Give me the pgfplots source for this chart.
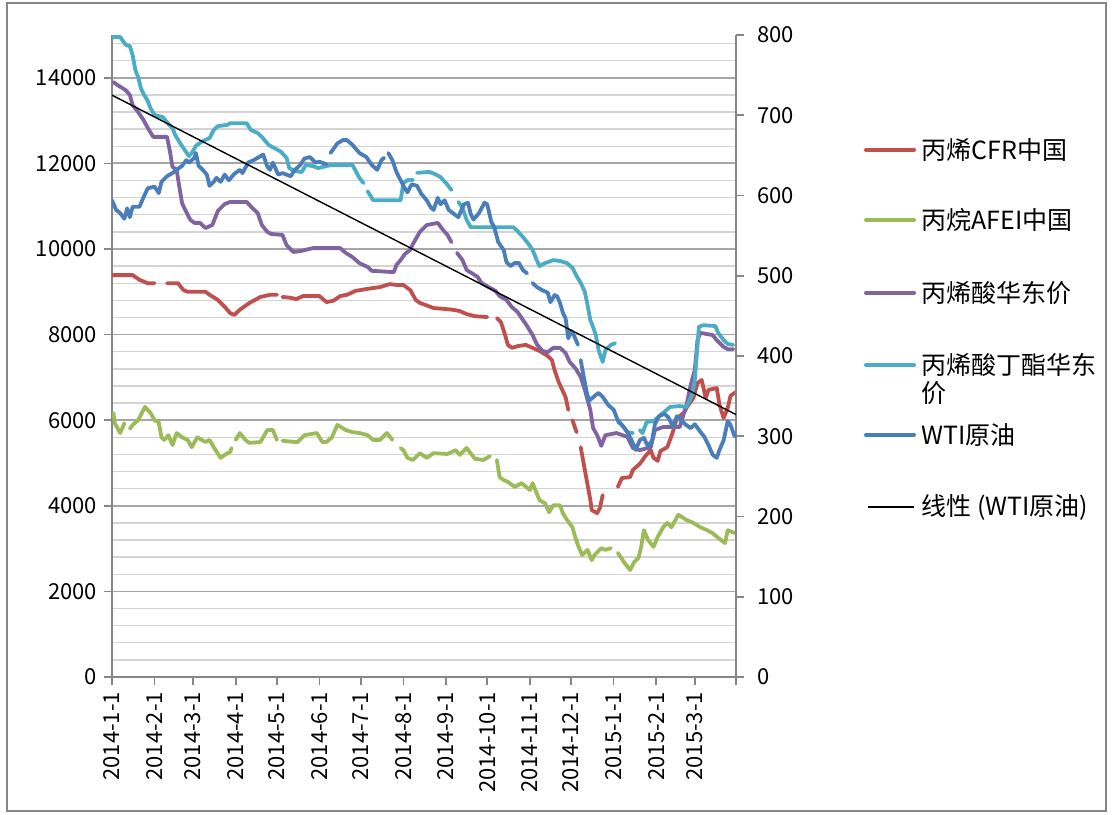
\documentclass[border=0pt]{standalone}
\usepackage{fontspec}
\setmainfont{Noto Sans CJK SC}
\usepackage{pgfplots}
\pgfplotsset{compat=1.18}
\definecolor{cred}{HTML}{C0504D}
\definecolor{cgreen}{HTML}{9BBB59}
\definecolor{cpurple}{HTML}{8064A2}
\definecolor{ccyan}{HTML}{4BACC6}
\definecolor{cblue}{HTML}{4A7EBB}
\definecolor{axgray}{HTML}{868686}
\definecolor{gmaj}{HTML}{A6A6A6}
\definecolor{gmin}{HTML}{D4D4D4}
\pgfplotsset{
  common/.style={
    scale only axis, width=312pt, height=321pt,
    at={(56pt,68.5pt)}, anchor=south west,
    xmin=0, xmax=454,
    unbounded coords=jump,
    tick align=outside,
    major tick length=4pt, minor tick length=0pt,
    axis line style={color=axgray, line width=0.8pt},
    tick style={color=axgray, line width=0.8pt},
    tick label style={font=\fontsize{11}{13}\selectfont, text=black},
    /pgf/number format/assume math mode=true,
    /pgf/number format/1000 sep={},
    scaled y ticks=false,
  },
  ser/.style={line width=1.9pt, line cap=round, line join=round},
}
\begin{document}
\begin{tikzpicture}[x=1pt,y=1pt]
\useasboundingbox (0,0) rectangle (556,407);
\draw[axgray, line width=1pt] (3.5,1.5) rectangle (553,405.5);
\begin{axis}[common,
  axis y line*=left, axis x line*=bottom,
  ymin=0, ymax=15000,
  ytick={0,2000,...,14000},
  minor ytick={400,800,...,14800},
  ymajorgrids, yminorgrids,
  major grid style={color=gmaj, line width=0.9pt},
  minor grid style={color=gmin, line width=0.7pt},
  xtick={0,31,59,90,120,151,181,212,243,273,304,334,365,396,424,454},
  xticklabels={2014-1-1,2014-2-1,2014-3-1,2014-4-1,2014-5-1,2014-6-1,2014-7-1,2014-8-1,2014-9-1,2014-10-1,2014-11-1,2014-12-1,2015-1-1,2015-2-1,2015-3-1,{}},
  x tick label style={rotate=90, anchor=east},
]
% 丙烯CFR中国
\addplot[ser, cred] coordinates {
(0,9390) (15,9390) (20,9280) (26,9200) (31,9200) (33,nan) (40,9200) (48,9200) (52,9040) (55,9000) (68,9000) (71,8930) (77,8810) (82,8650) (86,8500) (89,8460) (93,8580) (100,8740) (108,8880) (115,8930) (120,8930) (122,nan) (124,8880) (130,8860) (134,8830) (139,8900) (151,8900) (156,8760) (161,8790) (166,8900) (171,8930) (177,9020) (186,9070) (195,9110) (202,9180) (207,9160) (212,9160) (217,9040) (221,8810) (224,8740) (234,8620) (242,8600) (248,8580) (253,8550) (258,8480) (264,8430) (273,8410) (276,nan) (280,8390) (283,8290) (286,7990) (288,7760) (291,7690) (295,7730) (301,7760) (306,7690) (311,7620) (317,7500) (320,7410) (322,7170) (325,6890) (327,6750) (330,6540) (332,6240) (333,nan) (335,6000) (338,5720) (339,nan) (341,5370) (344,4840) (346,4490) (348,4140) (349,3900) (353,3830) (355,3950) (357,4250) (360,nan) (368,4440) (371,4650) (377,4670) (379,4840) (384,4980) (388,5160) (392,5300) (394,5120) (397,5050) (399,5280) (404,5370) (406,5540) (408,5720) (411,6050) (416,6170) (418,6290) (423,6520) (426,6870) (429,6940) (432,6520) (434,6710) (440,6750) (442,6360) (445,6050) (448,6290) (450,6570) (454,6660)
};
% 丙烷AFEI中国
\addplot[ser, cgreen] coordinates {
(1,6170) (2,5930) (6,5700) (9,5930) (11,nan) (13,5800) (15,5890) (19,6000) (24,6310) (28,6170) (31,6000) (34,5950) (36,5600) (38,5540) (41,5650) (44,5420) (47,5700) (51,5600) (55,5540) (58,5370) (62,5600) (68,5490) (71,5540) (74,5370) (79,5120) (82,5190) (86,5260) (87,5350) (88,nan) (90,5540) (93,5700) (97,5540) (100,5470) (108,5490) (113,5770) (117,5770) (120,5540) (122,nan) (124,5520) (130,5500) (135,5490) (140,5650) (149,5700) (153,5490) (156,5490) (160,5600) (164,5890) (170,5770) (175,5720) (180,5700) (186,5650) (190,5540) (195,5540) (200,5700) (204,5540) (207,nan) (210,5350) (212,5300) (215,5120) (219,5070) (224,5230) (229,5120) (234,5230) (244,5210) (250,5300) (253,5190) (258,5350) (264,5100) (270,5070) (275,5160) (277,nan) (280,5070) (282,4670) (285,4600) (288,4560) (293,4440) (298,4530) (304,4370) (306,4530) (311,4130) (315,4060) (318,3850) (321,4010) (326,4010) (328,3830) (331,3670) (335,3500) (337,3270) (339,3080) (342,2850) (346,2970) (349,2730) (351,2850) (356,3010) (359,2970) (363,3010) (365,nan) (368,2900) (373,2660) (377,2500) (380,2690) (383,2780) (385,3040) (387,3430) (390,3200) (394,3040) (397,3270) (401,3500) (404,3600) (407,3500) (410,3670) (412,3790) (418,3670) (423,3600) (428,3500) (433,3430) (437,3360) (441,3250) (446,3130) (448,3430) (451,3390) (454,3360)
};
% 丙烯酸华东价
\addplot[ser, cpurple] coordinates {
(1,13900) (4,13830) (10,13710) (13,13600) (15,13360) (19,13200) (23,13010) (26,12830) (30,12620) (40,12620) (42,12310) (44,11920) (47,11850) (49,11450) (51,11070) (53,10930) (57,10680) (60,10610) (64,10610) (68,10490) (73,10560) (77,10890) (82,11050) (86,11100) (98,11100) (102,10960) (106,10840) (109,10560) (113,10400) (116,10350) (124,10330) (127,10090) (132,9930) (137,9950) (146,10020) (166,10020) (170,9910) (175,9810) (180,9670) (186,9580) (189,9490) (205,9460) (207,9630) (210,9740) (213,9880) (217,9980) (219,10120) (224,10400) (229,10560) (237,10610) (241,10440) (244,10330) (247,10160) (249,nan) (251,9910) (255,9740) (258,9510) (266,9350) (269,9200) (274,9110) (279,9020) (282,8900) (287,8810) (291,8640) (295,8530) (298,8390) (302,8200) (306,7990) (309,7780) (313,7620) (317,7590) (321,7690) (326,7690) (330,7570) (333,7360) (337,7220) (341,7010) (344,6710) (348,6240) (350,5820) (353,5650) (356,5400) (359,5650) (367,5700) (375,5610) (379,5350) (384,5300) (392,5370) (395,5770) (401,5840) (413,5840) (418,6360) (421,6820) (424,7170) (426,7870) (428,8040) (437,7990) (440,7870) (445,7710) (448,7660) (452,7660)
};
% 丙烯酸丁酯华东价
\addplot[ser, ccyan] coordinates {
(0,14950) (6,14950) (10,14770) (13,14740) (15,14530) (17,14180) (19,14020) (21,13760) (23,13620) (26,13460) (28,13290) (31,13130) (37,13080) (41,12920) (44,12830) (46,12660) (50,12450) (53,12310) (56,12170) (58,12240) (61,12410) (65,12500) (68,12550) (71,12590) (74,12780) (77,12870) (84,12900) (86,12940) (98,12940) (101,12780) (106,12710) (109,12620) (114,12430) (118,12360) (123,12270) (127,12130) (129,11890) (133,11820) (138,11800) (141,11960) (146,11940) (150,11890) (159,11960) (175,11960) (180,11660) (183,11540) (185,nan) (186,11350) (190,11140) (210,11140) (212,11540) (215,11610) (219,11610) (220,nan) (222,11780) (231,11800) (235,11750) (239,11680) (243,11540) (247,11380) (249,nan) (252,11100) (255,10960) (258,10680) (261,10510) (292,10510) (295,10420) (299,10280) (303,10120) (306,9980) (309,9740) (311,9600) (315,9670) (321,9740) (326,9720) (331,9670) (335,9560) (338,9370) (341,9210) (344,9000) (346,8690) (348,8340) (350,8180) (352,7990) (354,7640) (357,7360) (359,7640) (363,7760) (366,7800) (366.5,nan) (368,5960) (371,5890) (375,5720) (379,5700) (381,nan) (384,5770) (386,5700) (389,5960) (394,5980) (406,6310) (413,6330) (418,6310) (422,6590) (424,6940) (426,7760) (427,8180) (430,8220) (439,8200) (441,8040) (445,7870) (448,7780) (452,7760)
};
\end{axis}
\begin{axis}[common,
  axis y line*=right, axis x line=none,
  ymin=0, ymax=800,
  ytick={0,100,...,800},
  yticklabel style={xshift=3pt},
]
% WTI原油
\addplot[ser, cblue] coordinates {
(0,594) (3,582) (6,578) (9,571) (11,584) (13,573) (15,586) (20,586) (23,598) (26,609) (31,611) (34,603) (36,617) (40,624) (44,628) (47,632) (51,637) (54,644) (56,641) (60,647) (61,653) (63,637) (66,632) (69,626) (71,612) (74,617) (76,622) (79,617) (82,626) (85,619) (89,627) (93,632) (95,628) (99,641) (103,644) (106,647) (110,651) (113,636) (115,632) (117,641) (121,626) (124,628) (130,624) (133,632) (137,638) (140,646) (144,648) (148,641) (151,642) (156,639) (158,nan) (159,653) (164,665) (168,669) (171,669) (175,663) (180,653) (185,648) (189,638) (193,632) (196,644) (198,647) (199.5,nan) (201,653) (204,644) (207,629) (210,619) (213,609) (215,604) (218,614) (222,612) (225,602) (229,594) (232,585) (234,582) (237,597) (239,589) (242,594) (245,582) (248,578) (252,573) (256,589) (259,591) (261,577) (263,570) (267,578) (271,591) (273,589) (276,567) (278,561) (281,542) (285,532) (287,517) (290,512) (293,516) (296,516) (299,507) (302,503) (304,nan) (306,491) (309,486) (313,482) (317,479) (319,467) (322,476) (324,474) (326,466) (328,454) (330,447) (332,422) (334,431) (336,426) (339,414) (340,nan) (341,395) (343,376) (345,358) (347,344) (351,350) (354,354) (357,349) (361,339) (365,333) (368,320) (372,312) (375,305) (378,295) (381,283) (384,295) (387,298) (390,287) (393,295) (395,315) (398,325) (402,328) (405,323) (408,312) (411,325) (414,320) (417,315) (421,310) (424,315) (427,308) (431,299) (434,289) (437,277) (440,273) (442,283) (445,295) (448,319) (450,314) (453,300) (454,301)
};
% 线性 (WTI原油)
\addplot[black, line width=0.7pt] coordinates {(0,725) (454,327)};
\end{axis}
% legend
\begin{scope}[every node/.style={anchor=west, inner sep=0pt, font=\fontsize{12.5}{15}\selectfont}]
\draw[cred, line width=2pt, line cap=round] (433,332) -- (457,332);
\node at (460.5,332) {丙烯CFR中国};
\draw[cgreen, line width=2pt, line cap=round] (433,297) -- (457,297);
\node at (460.5,297) {丙烷AFEI中国};
\draw[cpurple, line width=2pt, line cap=round] (433,260.5) -- (457,260.5);
\node at (460.5,260.5) {丙烯酸华东价};
\draw[ccyan, line width=2pt, line cap=round] (433,224.5) -- (457,224.5);
\node at (460.5,224.5) {丙烯酸丁酯华东};
\node at (460.5,210.5) {价};
\draw[cblue, line width=2pt, line cap=round] (433,189.5) -- (457,189.5);
\node at (460.5,189.5) {WTI原油};
\draw[black, line width=0.6pt] (434,153.5) -- (457,153.5);
\node at (460.5,153.5) {线性 (WTI原油)};
\end{scope}
\end{tikzpicture}
\end{document}
